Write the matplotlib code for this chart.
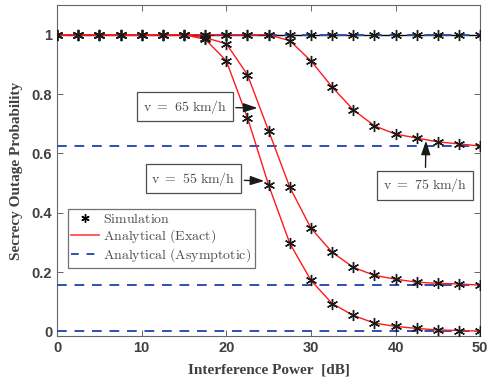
import matplotlib
matplotlib.use("Agg")
import matplotlib.pyplot as plt
import numpy as np

# interference power grid [dB]
power_db = np.arange(0, 50.1, 2.5)

# secrecy outage probability (same values for sim and exact)
sop_55 = [1, 1, 1, 1, 1, 1, 1, 0.985, 0.912, 0.72, 0.493, 0.297, 0.172, 0.094,
          0.054, 0.028, 0.017, 0.01, 0.005, 0.003, 0.001]
sop_65 = [1, 1, 1, 1, 1, 1, 1, 0.99, 0.97, 0.865, 0.676, 0.486, 0.348, 0.267,
          0.216, 0.189, 0.176, 0.166, 0.162, 0.16, 0.156]
sop_75 = [1, 1, 1, 1, 1, 1, 1, 1, 1, 1, 1, 0.98, 0.912, 0.824, 0.747, 0.693,
          0.665, 0.652, 0.639, 0.632, 0.625]
sop_top = [1] * 21

asym_levels = [1.0, 0.625, 0.156, 0.0]

labels = ["v = 65 km/h", "v = 55 km/h", "v = 75 km/h"]

plt.rcParams['mathtext.fontset'] = 'cm'

fig = plt.figure(figsize=(4.88, 3.91), dpi=100)
ax = fig.add_axes([0.117, 0.141, 0.867, 0.846])

blue = '#2f4fb0'
star = (6, 2, 0)
ax.plot(power_db, sop_top, 'k-', lw=1.0, zorder=2)
for lvl in asym_levels:
    ax.axhline(lvl, color=blue, ls=(0, (5, 4)), lw=1.4, zorder=3)
for sop in (sop_55, sop_65, sop_75):
    ax.plot(power_db, sop, color='#ff1a1a', lw=1.0, zorder=4)
for sop in (sop_top, sop_55, sop_65, sop_75):
    ax.plot(power_db, sop, ls='none', marker=star, ms=8, mfc='none',
            mec='0.1', mew=1.0, zorder=5)

ax.set_xlim(0, 50)
ax.set_ylim(-0.015, 1.1)
ax.set_xticks([0, 10, 20, 30, 40, 50])
ax.set_yticks([0, 0.2, 0.4, 0.6, 0.8, 1.0])
ax.set_yticklabels(["0", "0.2", "0.4", "0.6", "0.8", "1"])
ax.tick_params(direction='in', top=True, right=True, length=4, width=0.6,
               colors='0.3', labelcolor='0.25')
for lab in ax.get_xticklabels() + ax.get_yticklabels():
    lab.set_fontfamily('Liberation Sans')
    lab.set_fontweight('bold')
    lab.set_fontsize(10.5)
for sp in ax.spines.values():
    sp.set_color('0.4')
    sp.set_linewidth(0.8)

ax.set_xlabel("Interference Power  [dB]", family='Liberation Serif',
              fontweight='bold', fontsize=11, color='0.25', labelpad=6)
ax.set_ylabel("Secrecy Outage Probability", family='Liberation Serif',
              fontweight='bold', fontsize=11, color='0.25', labelpad=6)

box = dict(boxstyle='square,pad=0.4', fc='white', ec='0.3', lw=0.9)
arrow = dict(arrowstyle='-|>,head_length=0.6,head_width=0.2', color='0.1',
             lw=1.0, mutation_scale=14)


def mt(s):
    return r'$\mathrm{' + s.replace(' ', r'\ ') + '}$'


ax.annotate(mt(labels[0]), xy=(24.0, 0.753), xytext=(15.1, 0.757),
            ha='center', va='center', fontsize=10, color='0.3',
            bbox=box, arrowprops=arrow, zorder=6)
ax.annotate(mt(labels[1]), xy=(24.8, 0.507), xytext=(16.1, 0.514),
            ha='center', va='center', fontsize=10, color='0.3',
            bbox=box, arrowprops=arrow, zorder=6)
ax.annotate(mt(labels[2]), xy=(43.6, 0.652), xytext=(43.5, 0.493),
            ha='center', va='center', fontsize=10, color='0.3',
            bbox=box, arrowprops=arrow, zorder=6)

h1, = ax.plot([], [], ls='none', marker=star, ms=6, mfc='none', mec='k',
              mew=1.0)
h2, = ax.plot([], [], color='#ff4040', lw=1.2)
h3, = ax.plot([], [], color=blue, ls=(0, (4, 4)), lw=1.4)
leg = ax.legend([h1, h2, h3],
                [mt("Simulation"), mt("Analytical (Exact)"),
                 mt("Analytical (Asymptotic)")],
                loc='upper left', bbox_to_anchor=(0.025, 0.385),
                fontsize=10, frameon=True, fancybox=False, borderpad=0.25,
                handlelength=2.0, handletextpad=0.3, labelspacing=0.1,
                borderaxespad=0)
leg.get_frame().set_edgecolor('0.3')
leg.get_frame().set_linewidth(0.9)
for t in leg.get_texts():
    t.set_color('0.3')

fig.savefig("out.png", dpi=100)
